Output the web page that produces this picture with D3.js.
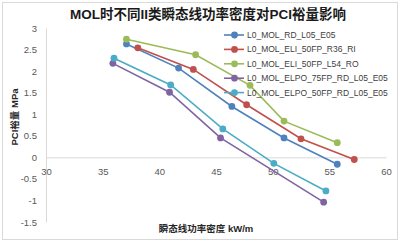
<!DOCTYPE html>
<html lang="zh">
<head>
  <meta charset="UTF-8">
  <title>MOL PCI margin chart</title>
  <script src="https://d3js.org/d3.v7.min.js"></script>
  <style>
    body { margin: 0; background: #fff; }
    svg { display: block; }
    .tick text { font-family: "Liberation Sans", Arial, sans-serif; font-size: 9.5px; fill: #595959; }
  </style>
</head>
<body>
  <svg width="401" height="243"></svg>
  <script>
  // series names, in legend order
  const seriesNames = [
    "L0_MOL_RD_L05_E05",
    "L0_MOL_ELI_50FP_R36_RI",
    "L0_MOL_ELI_50FP_L54_RO",
    "L0_MOL_ELPO_75FP_RD_L05_E05",
    "L0_MOL_ELPO_50FP_RD_L05_E05"
  ];
  const seriesColors = ["#4F81BD", "#C0504D", "#9BBB59", "#8064A2", "#4BACC6"];

  // power density (kW/m) and PCI margin (MPa)
  const xRD   = [37.1, 41.7, 46.4, 51.0, 55.7];
  const yRD   = [2.63, 2.07, 1.18, 0.45, -0.16];
  const xR36  = [38.1, 43.0, 47.7, 52.5, 57.2];
  const yR36  = [2.54, 2.04, 1.22, 0.43, -0.05];
  const xL54  = [37.1, 43.2, 48.0, 51.0, 55.7];
  const yL54  = [2.74, 2.38, 1.67, 0.84, 0.34];
  const xE75  = [35.9, 40.9, 45.4, 54.5];
  const yE75  = [2.18, 1.51, 0.45, -1.04];
  const xE50  = [36.0, 41.0, 45.6, 50.1, 54.7];
  const yE50  = [2.30, 1.68, 0.66, -0.14, -0.78];

  const xTicks = [30, 35, 40, 45, 50, 55, 60];
  const yTicks = [-1.5, -1, -0.5, 0, 0.5, 1, 1.5, 2, 2.5, 3];

  const allX = [xRD, xR36, xL54, xE75, xE50];
  const allY = [yRD, yR36, yL54, yE75, yE50];
  const series = seriesNames.map((name, i) => ({
    name: name,
    color: seriesColors[i],
    points: allX[i].map((x, j) => ({ x: x, y: allY[i][j] }))
  }));

  const svg = d3.select("svg");
  const font = "\"Liberation Sans\", Arial, \"Noto Sans CJK SC\", sans-serif";

  // outer chart frame
  svg.append("rect")
     .attr("x", 2.5).attr("y", 2.5)
     .attr("width", 395).attr("height", 237)
     .attr("fill", "#fff")
     .attr("stroke", "#d9d9d9");

  const x = d3.scaleLinear().domain([30, 60]).range([46, 386]);
  const y = d3.scaleLinear().domain([-1.5, 3]).range([222, 28]);

  // y axis
  const yAxis = svg.append("g")
     .attr("transform", "translate(46,0)")
     .call(d3.axisLeft(y).tickValues(yTicks).tickSize(0).tickPadding(9)
            .tickFormat(d => String(d)));
  yAxis.select(".domain").attr("stroke", "#d9d9d9");

  // x axis sits on the zero line
  const xAxis = svg.append("g")
     .attr("transform", `translate(0,${y(0)})`)
     .call(d3.axisBottom(x).tickValues(xTicks).tickSize(0).tickPadding(11));
  xAxis.select(".domain").attr("stroke", "#d9d9d9");

  // lines and markers
  const line = d3.line().x(d => x(d.x)).y(d => y(d.y));
  const g = svg.append("g");
  series.forEach(s => {
    g.append("path")
     .attr("d", line(s.points))
     .attr("fill", "none")
     .attr("stroke", s.color)
     .attr("stroke-width", 1.6);
    g.selectAll(null)
     .data(s.points)
     .enter()
     .append("circle")
     .attr("cx", d => x(d.x))
     .attr("cy", d => y(d.y))
     .attr("r", 3.4)
     .attr("fill", s.color);
  });

  // legend
  const legend = svg.append("g");
  series.forEach((s, i) => {
    const ly = 35 + i * 14.4;
    legend.append("line")
      .attr("x1", 224).attr("x2", 244)
      .attr("y1", ly).attr("y2", ly)
      .attr("stroke", s.color).attr("stroke-width", 1.6);
    legend.append("circle")
      .attr("cx", 234.5).attr("cy", ly).attr("r", 3.4)
      .attr("fill", s.color);
    legend.append("text")
      .attr("x", 247).attr("y", ly)
      .attr("dy", "0.35em")
      .attr("font-family", font)
      .attr("font-size", 8.5)
      .attr("fill", "#404040")
      .text(s.name);
  });

  // title
  svg.append("text")
     .attr("x", 208).attr("y", 19)
     .attr("text-anchor", "middle")
     .attr("font-family", font)
     .attr("font-size", 13.5)
     .attr("font-weight", "bold")
     .attr("fill", "#1a1a1a")
     .text("MOL时不同II类瞬态线功率密度对PCI裕量影响");

  // axis titles
  svg.append("text")
     .attr("transform", "translate(18,117) rotate(-90)")
     .attr("text-anchor", "middle")
     .attr("font-family", font)
     .attr("font-size", 9.5)
     .attr("font-weight", "bold")
     .attr("fill", "#262626")
     .text("PCI裕量 MPa");

  svg.append("text")
     .attr("x", 206).attr("y", 232)
     .attr("text-anchor", "middle")
     .attr("font-family", font)
     .attr("font-size", 9.5)
     .attr("font-weight", "bold")
     .attr("fill", "#262626")
     .text("瞬态线功率密度 kW/m");
  </script>
</body>
</html>
